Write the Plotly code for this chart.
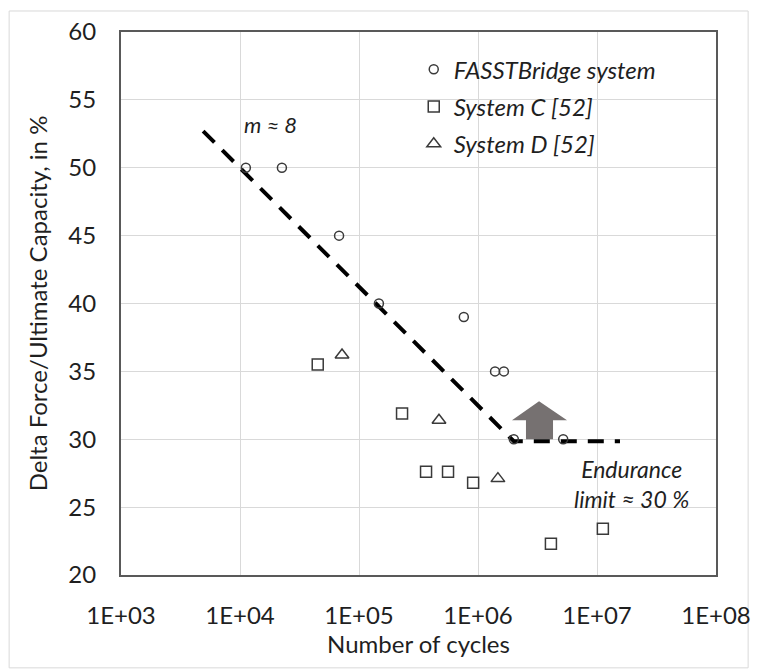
import numpy as np
import plotly.graph_objects as go

# ---- data ----
fasst_x = [1.12e4, 2.25e4, 6.8e4, 1.47e5, 7.6e5, 1.39e6, 1.65e6, 2.0e6, 5.2e6]
fasst_y = [50, 50, 45, 40, 39, 35, 35, 30, 30]

sysc_x = [4.5e4, 2.3e5, 3.66e5, 5.6e5, 9.1e5, 4.1e6, 1.12e7]
sysc_y = [35.5, 31.9, 27.6, 27.6, 26.8, 22.3, 23.4]

sysd_x = [7.2e4, 4.7e5, 1.47e6]
sysd_y = [36.2, 31.4, 27.1]

trend_x = [4.9e3, 2.0e6, 1.56e7]
trend_y = [52.7, 29.85, 29.85]

arrow_x = [3.26e6, 5.6e6, 4.27e6, 4.27e6, 2.53e6, 2.53e6, 1.93e6, 3.26e6]
arrow_y = [32.8, 31.4, 31.4, 30.0, 30.0, 31.4, 31.4, 32.8]

x_tickvals = [1e3, 1e4, 1e5, 1e6, 1e7, 1e8]
x_ticktext = ["1E+03", "1E+04", "1E+05", "1E+06", "1E+07", "1E+08"]
y_tickvals = [20, 25, 30, 35, 40, 45, 50, 55, 60]

m_label_pos = (1.79e4, 53.2)
endurance_pos = (1.95e7, 26.7)

FONT = "Lato"
TXT = "#1f1f1f"
MK = "#3a3a3a"

fig = go.Figure()

fig.add_trace(go.Scatter(
    x=arrow_x, y=arrow_y, mode="lines", fill="toself",
    fillcolor="#767171", line=dict(width=0, color="#767171"),
    showlegend=False, hoverinfo="skip"))

fig.add_trace(go.Scatter(
    x=trend_x, y=trend_y, mode="lines",
    line=dict(color="black", width=4, dash="16px,11px"),
    showlegend=False, hoverinfo="skip"))

fig.add_trace(go.Scatter(
    x=fasst_x, y=fasst_y, mode="markers", name="FASSTBridge system",
    legendgroup="a",
    marker=dict(symbol="circle-open", size=9, color=MK, line=dict(width=1.5, color=MK))))
fig.add_trace(go.Scatter(
    x=sysc_x, y=sysc_y, mode="markers", name="System C [52]",
    legendgroup="b",
    marker=dict(symbol="square-open", size=11, color=MK, line=dict(width=1.5, color=MK))))
fig.add_trace(go.Scatter(
    x=sysd_x, y=sysd_y, mode="markers", name="System D [52]",
    legendgroup="c",
    marker=dict(symbol="triangle-up-open", size=12, color=MK, line=dict(width=1.5, color=MK))))

fig.add_annotation(
    x=np.log10(m_label_pos[0]), y=m_label_pos[1], xref="x", yref="y",
    text="m ≈ 8", showarrow=False,
    font=dict(family=FONT, size=22, color=TXT, style="italic"))
fig.add_annotation(
    x=np.log10(endurance_pos[0]), y=endurance_pos[1], xref="x", yref="y",
    text="Endurance<br>limit ≈ 30 %", showarrow=False, align="center",
    font=dict(family=FONT, size=23, color=TXT, style="italic"))

# outer light frame
fig.add_shape(type="rect", xref="paper", yref="paper",
              x0=-0.188, x1=1.054, y0=-0.171, y1=1.0387,
              line=dict(color="#d9d9d9", width=1), layer="below")

fig.update_xaxes(
    type="log", range=[3, 8],
    tickvals=x_tickvals, ticktext=x_ticktext,
    showgrid=True, gridcolor="#d9d9d9", gridwidth=1,
    showline=True, linecolor="#595959", linewidth=2, mirror=True,
    ticks="", ticklabelstandoff=18,
    tickfont=dict(family=FONT, size=24, color=TXT),
    title=dict(text="Number of cycles", font=dict(family=FONT, size=24, color=TXT), standoff=6),
    zeroline=False)
fig.update_yaxes(
    range=[20, 60], tickvals=y_tickvals,
    showgrid=True, gridcolor="#d9d9d9", gridwidth=1,
    showline=True, linecolor="#595959", linewidth=2, mirror=True,
    ticks="", ticklabelstandoff=18,
    tickfont=dict(family=FONT, size=24, color=TXT),
    title=dict(text="Delta Force/Ultimate Capacity, in %", font=dict(family=FONT, size=24, color=TXT), standoff=14),
    zeroline=False)

fig.update_layout(
    width=757, height=670,
    margin=dict(l=121, r=41, t=32, b=95, autoexpand=False),
    paper_bgcolor="white", plot_bgcolor="white",
    showlegend=True,
    legend=dict(
        x=0.492, y=0.972, xanchor="left", yanchor="top",
        bgcolor="rgba(0,0,0,0)", borderwidth=0,
        tracegroupgap=3,
        font=dict(family=FONT, size=24, color=TXT, style="italic")),
)

fig.write_html("out.html")
